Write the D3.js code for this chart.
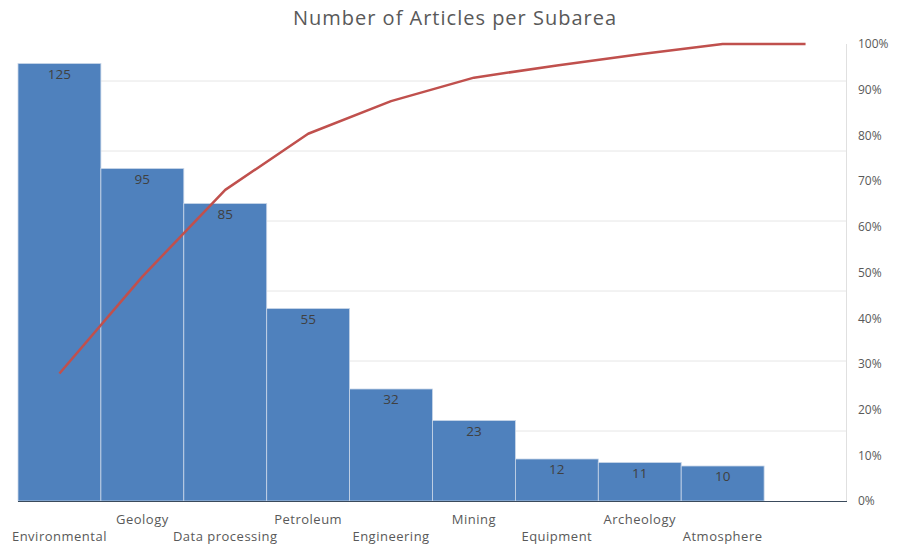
<!DOCTYPE html>
<html>
<head>
<meta charset="utf-8">
<script src="https://cdn.jsdelivr.net/npm/d3@7"></script>
<style>
  html, body { margin: 0; padding: 0; background: #fff; }
  svg { display: block; font-family: "Open Sans", sans-serif; }
</style>
</head>
<body>
<svg id="chart" width="897" height="546"></svg>
<script>
// Articles per subarea (the last slot is an empty category)
const categories = ["Environmental", "Geology", "Data processing", "Petroleum", "Engineering",
                    "Mining", "Equipment", "Archeology", "Atmosphere", ""];
const articles = [125, 95, 85, 55, 32, 23, 12, 11, 10, 0];
const countGridTicks = [20, 40, 60, 80, 100, 120];
const percentTicks = [0, 0.1, 0.2, 0.3, 0.4, 0.5, 0.6, 0.7, 0.8, 0.9, 1.0];

const total = d3.sum(articles);
const cumulative = Array.from(d3.cumsum(articles), v => v / total);

const svg = d3.select("#chart");
const left = 18, right = 847, bottom = 501;

const x = d3.scaleBand().domain(categories.map((c, i) => i)).range([left, right]).padding(0);
const yCount = d3.scaleLinear().domain([0, 130]).range([bottom, 46]);
const yPct = d3.scaleLinear().domain([0, 1]).range([bottom, 44]);

// title
svg.append("text")
  .attr("x", 455).attr("y", 25)
  .attr("text-anchor", "middle")
  .attr("font-size", 20)
  .attr("letter-spacing", 1)
  .attr("fill", "#595959")
  .text("Number of Articles per Subarea");

// horizontal gridlines (count scale)
svg.append("g").selectAll("line").data(countGridTicks).join("line")
  .attr("x1", left).attr("x2", right)
  .attr("y1", d => yCount(d)).attr("y2", d => yCount(d))
  .attr("stroke", "#e6e6e6").attr("stroke-width", 1);

// right axis line
svg.append("line")
  .attr("x1", right - 0.5).attr("x2", right - 0.5)
  .attr("y1", yPct(1)).attr("y2", bottom)
  .attr("stroke", "#e0e0e0");

// bars
svg.append("g").selectAll("rect").data(articles).join("rect")
  .attr("x", (d, i) => x(i))
  .attr("width", x.bandwidth())
  .attr("y", d => yCount(d))
  .attr("height", d => bottom - yCount(d))
  .attr("fill", "#4f81bd")
  .attr("stroke", "#c9d6e8").attr("stroke-width", 0.8);

// bar value labels
svg.append("g").selectAll("text").data(articles.map((v, i) => ({v, i})).filter(d => d.v > 0)).join("text")
  .attr("x", d => x(d.i) + x.bandwidth() / 2)
  .attr("y", d => yCount(d.v) + 15)
  .attr("text-anchor", "middle")
  .attr("font-size", 13.5)
  .attr("fill", "#404040")
  .text(d => d.v);

// category axis line
svg.append("line")
  .attr("x1", left).attr("x2", right)
  .attr("y1", bottom + 0.5).attr("y2", bottom + 0.5)
  .attr("stroke", "#3a4a5c").attr("stroke-width", 1.2);

// category labels, staggered on two rows
svg.append("g").selectAll("text").data(categories).join("text")
  .attr("x", (d, i) => x(i) + x.bandwidth() / 2)
  .attr("y", (d, i) => i % 2 === 1 ? 524 : 541)
  .attr("text-anchor", "middle")
  .attr("font-size", 13)
  .attr("letter-spacing", 0.5)
  .attr("fill", "#595959")
  .text(d => d);

// right percent axis
const pctAxis = d3.axisRight(yPct).tickValues(percentTicks).tickFormat(d3.format(".0%")).tickSize(0).tickPadding(11);
const ga = svg.append("g").attr("transform", `translate(${right},0)`).call(pctAxis);
ga.select(".domain").remove();
ga.selectAll("text").attr("font-size", 12).attr("fill", "#595959").attr("font-family", "'Open Sans', sans-serif");

// cumulative percentage line
const line = d3.line()
  .x((d, i) => x(i) + x.bandwidth() / 2)
  .y(d => yPct(d));
svg.append("path")
  .datum(cumulative)
  .attr("d", line)
  .attr("fill", "none")
  .attr("stroke", "#c0504d")
  .attr("stroke-width", 2.5)
  .attr("stroke-linejoin", "round");
</script>
</body>
</html>
